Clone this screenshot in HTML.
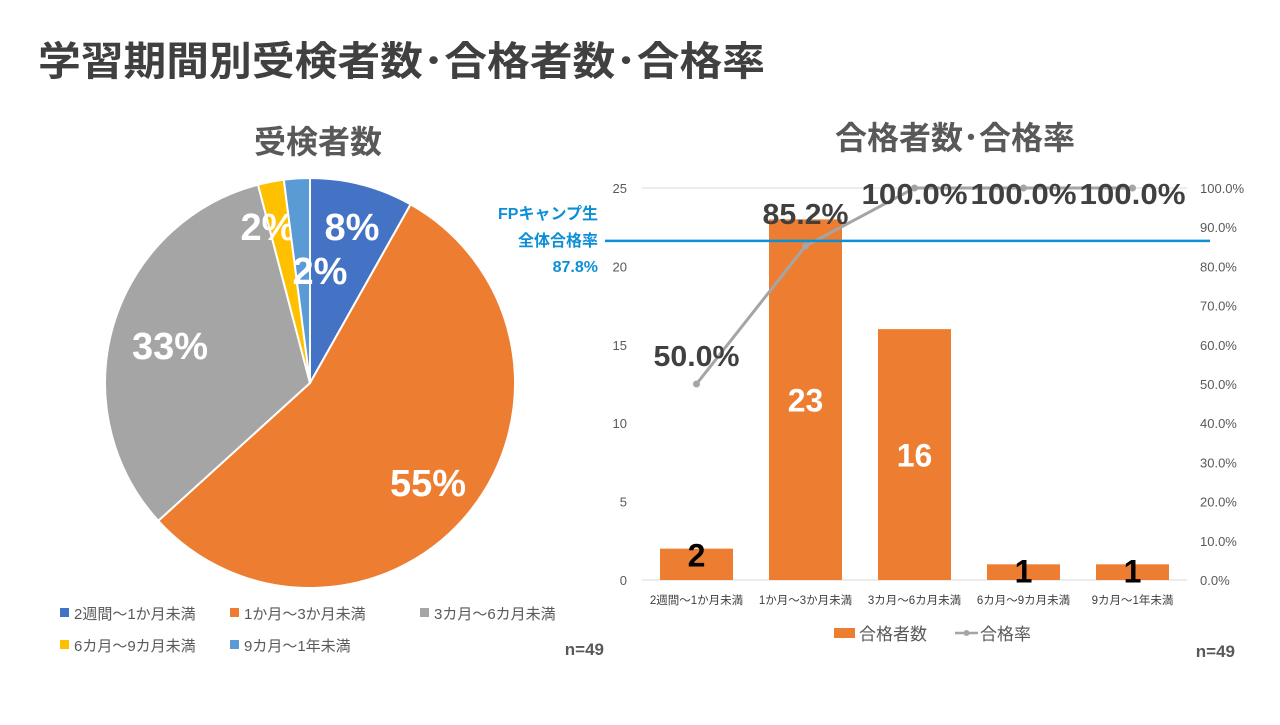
<!DOCTYPE html>
<html><head><meta charset="utf-8"><style>
body{margin:0;width:1280px;height:720px;background:#fff;overflow:hidden;font-family:"Liberation Sans","Noto Sans CJK JP",sans-serif}
svg text{font-family:"Liberation Sans","Noto Sans CJK JP",sans-serif}
</style></head><body>
<svg id="s" width="1280" height="720">
<text x="38" y="75" font-size="40" font-weight="bold" fill="#404040" textLength="727" lengthAdjust="spacingAndGlyphs">学習期間別受検者数･合格者数･合格率</text>
<text x="318" y="153" text-anchor="middle" font-size="32" font-weight="bold" fill="#595959">受検者数</text>
<text x="955" y="149" text-anchor="middle" font-size="32" font-weight="bold" fill="#595959">合格者数･合格率</text>
<g id="pie"></g>
<g id="bar"></g>
<text x="604" y="655" text-anchor="end" font-size="17" font-weight="bold" fill="#595959">n=49</text>
<text x="1235" y="657" text-anchor="end" font-size="17" font-weight="bold" fill="#595959">n=49</text>
</svg>
<script>
const pieLabels=["2週間～1か月未満","1か月～3か月未満","3カ月～6カ月未満","6カ月～9カ月未満","9カ月～1年未満"];
const pieValues=[4,27,16,1,1];
const pieColors=["#4472c4","#ed7d31","#a5a5a5","#ffc000","#5b9bd5"];
const barCats=["2週間～1か月未満","1か月～3か月未満","3カ月～6カ月未満","6カ月～9カ月未満","9カ月～1年未満"];
const passCounts=[2,23,16,1,1];
const passRates=[50.0,85.2,100.0,100.0,100.0];
const leftTicks=[0,5,10,15,20,25];
const rightTicks=[0,10,20,30,40,50,60,70,80,90,100];
const fpRate=87.8;
const NS="http://www.w3.org/2000/svg";
function el(t,a,p,txt){const e=document.createElementNS(NS,t);for(const k in a)e.setAttribute(k,a[k]);if(txt!==undefined)e.textContent=txt;p.appendChild(e);return e;}
const pie=document.getElementById('pie');
const cx=310,cy=383,r=205,tot=pieValues.reduce((a,b)=>a+b,0);
let ang=0;
const labelR=[0.78,0.62,0.72,0.8,0.6];
pieValues.forEach((v,i)=>{
  const a0=ang,a1=ang+v/tot*2*Math.PI;ang=a1;
  const p=(a)=>[cx+r*Math.sin(a),cy-r*Math.cos(a)];
  const [x0,y0]=p(a0),[x1,y1]=p(a1);
  const s=el('path',{d:`M${cx},${cy}L${x0},${y0}A${r},${r} 0 ${a1-a0>Math.PI?1:0} 1 ${x1},${y1}Z`,fill:pieColors[i],stroke:'#fff','stroke-width':2},pie);
  
  
  const m=(a0+a1)/2,lr=r*labelR[i];
  let lx=cx+lr*Math.sin(m),ly=cy-lr*Math.cos(m);
  if(i===0){lx=352;ly=226;}
  if(i===3){lx=268;ly=226;} if(i===4){lx=320;ly=270;}
  if(i===2){lx=170;ly=345;} if(i===1){lx=428;ly=482;}
  const t=el('text',{x:lx,y:ly+14,'text-anchor':'middle','font-size':38,'font-weight':'bold',fill:'#fff'},pie,Math.round(v/tot*100)+'%');
  
  
});
const lp=[[62,619],[232,619],[422,619],[62,651],[232,651]];
pieLabels.forEach((l,i)=>{
  const g=el('g',{},pie);
  
  
  el('rect',{x:lp[i][0]-2,y:lp[i][1]-11,width:9,height:9,fill:pieColors[i]},g);
  el('text',{x:lp[i][0]+12,y:lp[i][1],'font-size':15,fill:'#595959'},g,l);
});
const bar=document.getElementById('bar');
const X0=642,X1=1187,Y0=580,Y1=188,n=barCats.length,band=(X1-X0)/n;
const yL=v=>Y0-(v/25)*(Y0-Y1), yR=v=>Y0-(v/100)*(Y0-Y1), xc=i=>X0+band*(i+0.5);
el('line',{x1:X0,x2:X1,y1:Y1,y2:Y1,stroke:'#d9d9d9'},bar);
el('line',{x1:X0,x2:X1,y1:Y0,y2:Y0,stroke:'#d9d9d9'},bar);
leftTicks.forEach(t=>{const e=el('text',{x:627,y:yL(t)+5,'text-anchor':'end','font-size':13,fill:'#595959'},bar,t);});
rightTicks.forEach(t=>{const e=el('text',{x:1200,y:yR(t)+5,'font-size':13,fill:'#595959'},bar,t.toFixed(1)+'%');});
passCounts.forEach((v,i)=>{
  const bw=73;
  const b=el('rect',{x:xc(i)-bw/2,y:yL(v),width:bw,height:Y0-yL(v),fill:'#ed7d31'},bar);
  
  
  const big=v>3;
  const t=el('text',{x:xc(i),y:big?(yL(v)+Y0)/2+12:yL(v)+18,'text-anchor':'middle','font-size':32,'font-weight':'bold',fill:big?'#fff':'#000'},bar,v);
  
  
  const c=el('text',{x:xc(i),y:604,'text-anchor':'middle','font-size':11.5,fill:'#404040'},bar,barCats[i]);
  
  
});
const pl=el('polyline',{points:passRates.map((v,i)=>xc(i)+','+yR(v)).join(' '),fill:'none',stroke:'#a5a5a5','stroke-width':3},bar);


passRates.forEach((v,i)=>{
  const d=el('circle',{cx:xc(i),cy:yR(v),r:3.5,fill:'#a5a5a5'},bar);
  
  
  const t=el('text',{x:xc(i),y:yR(v)-(v>=99?-16:(v>80?22:18)),'text-anchor':'middle','font-size':29,'font-weight':'bold',fill:'#404040',textLength:v>=99?106:86,lengthAdjust:'spacingAndGlyphs'},bar,v.toFixed(1)+'%');
  
  
});
const fy=yR(fpRate)+5;
const fl=el('line',{x1:605,x2:1210,y1:fy,y2:fy,stroke:'#0d8fd6','stroke-width':2.5},bar);


[["FPキャンプ生",219],["全体合格率",246],[fpRate.toFixed(1)+"%",272]].forEach(a=>{
  const t=el('text',{x:598,y:a[1],'text-anchor':'end','font-size':16,'font-weight':'bold',fill:'#0d8fd6'},bar,a[0]);
  
  
});
const lg=el('g',{},bar);


el('rect',{x:834,y:628,width:21,height:10,fill:'#ed7d31'},lg);
el('text',{x:859,y:640,'font-size':17,fill:'#595959'},lg,'合格者数');
el('line',{x1:955,x2:978,y1:633,y2:633,stroke:'#a5a5a5','stroke-width':2.5},lg);
el('circle',{cx:966.5,cy:633,r:3,fill:'#a5a5a5'},lg);
el('text',{x:980,y:640,'font-size':17,fill:'#595959'},lg,'合格率');
</script>
</body></html>
